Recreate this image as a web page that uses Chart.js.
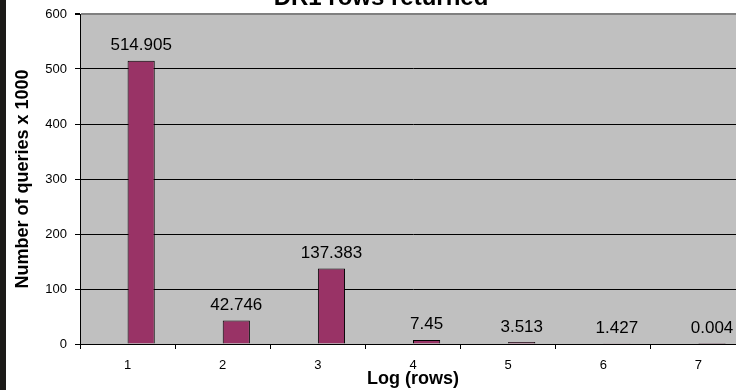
<!DOCTYPE html>
<html>
<head>
<meta charset="utf-8">
<script src="https://cdn.jsdelivr.net/npm/chart.js@4/dist/chart.umd.min.js"></script>
<style>
  html, body { margin: 0; padding: 0; background: #ffffff; overflow: hidden; }
  #frame { position: relative; width: 736px; height: 390px; overflow: hidden; background: #ffffff; }
  #chart { position: absolute; left: 0; top: -30px; }
  #edge { position: absolute; left: 0; top: 0; width: 6px; height: 390px; background: #1c1a18; }
</style>
</head>
<body>
<div id="frame">
  <canvas id="chart" width="762" height="420"></canvas>
  <div id="edge"></div>
</div>
<script>
// Category buckets (log10 of rows returned)
const rowBuckets = ['1', '2', '3', '4', '5', '6', '7'];
// Number of queries (thousands) per bucket
const queryCounts = [514.905, 42.746, 137.383, 7.45, 3.513, 1.427, 0.004];
// Empty first series of the clustered layout
const emptySeries = [null, null, null, null, null, null, null];
// Value axis range
const yMin = 0;
const yMax = 600;
const yStep = 100;

const FONT = '"Liberation Sans", Arial, Helvetica, sans-serif';

// Grey plot-area fill
const plotBackground = {
  id: 'plotBackground',
  beforeDraw(chart) {
    const { ctx, chartArea: a } = chart;
    ctx.save();
    ctx.fillStyle = '#c0c0c0';
    ctx.fillRect(a.left, a.top, a.right - a.left, a.bottom - a.top);
    ctx.restore();
  }
};

// Value labels above each bar
const valueLabels = {
  id: 'valueLabels',
  afterDatasetsDraw(chart) {
    const { ctx } = chart;
    const meta = chart.getDatasetMeta(1);
    const values = chart.data.datasets[1].data;
    ctx.save();
    ctx.font = '17px ' + FONT;
    ctx.fillStyle = '#000000';
    ctx.textAlign = 'center';
    ctx.textBaseline = 'alphabetic';
    meta.data.forEach((bar, i) => {
      ctx.fillText(String(values[i]), bar.x, bar.y - 10.5);
    });
    ctx.restore();
  }
};

new Chart(document.getElementById('chart'), {
  type: 'bar',
  data: {
    labels: rowBuckets,
    datasets: [
      {
        label: '',
        data: emptySeries,
        backgroundColor: '#9999ff',
        borderColor: '#000000',
        borderWidth: 1
      },
      {
        label: 'Queries',
        data: queryCounts,
        backgroundColor: '#993366',
        borderColor: '#000000',
        borderWidth: 1,
        borderSkipped: 'start'
      }
    ]
  },
  options: {
    responsive: false,
    animation: false,
    devicePixelRatio: 1,
    categoryPercentage: 2 / 3.5,
    barPercentage: 1,
    layout: { padding: { left: 16, right: 16, top: 0, bottom: 0 } },
    plugins: {
      legend: { display: false },
      tooltip: { enabled: false },
      title: {
        display: true,
        text: 'DR1 rows returned',
        color: '#000000',
        font: { family: FONT, size: 24, weight: 'bold', lineHeight: 1.2 },
        padding: { top: 14, bottom: 1.2 }
      }
    },
    scales: {
      x: {
        offset: true,
        grid: {
          offset: true,
          drawOnChartArea: false,
          drawTicks: true,
          tickLength: 5,
          tickColor: '#000000',
          color: '#000000'
        },
        border: { display: true, color: '#000000', width: 1 },
        ticks: {
          color: '#000000',
          padding: 9,
          font: { family: FONT, size: 13 }
        },
        title: {
          display: true,
          text: 'Log (rows)',
          color: '#000000',
          font: { family: FONT, size: 18, weight: 'bold', lineHeight: 1.2 },
          padding: { top: 0, bottom: 0 }
        },
        afterFit(scale) { scale.height = 46; }
      },
      y: {
        min: yMin,
        max: yMax,
        ticks: {
          stepSize: yStep,
          color: '#000000',
          padding: 8,
          font: { family: FONT, size: 13 }
        },
        grid: {
          drawTicks: true,
          tickLength: 5,
          tickColor: '#000000',
          color: (c) => (c.tick && c.tick.value === yMax ? '#808080' : '#000000'),
          lineWidth: (c) => (c.tick && c.tick.value === yMax ? 2 : 1)
        },
        border: { display: true, color: '#000000', width: 1 },
        title: {
          display: true,
          text: 'Number of queries x 1000',
          color: '#000000',
          font: { family: FONT, size: 18, weight: 'bold', lineHeight: 1.2 },
          padding: { top: -4, bottom: 0 }
        },
        afterFit(scale) { scale.width = 64; }
      }
    }
  },
  plugins: [plotBackground, valueLabels]
});
</script>
</body>
</html>
